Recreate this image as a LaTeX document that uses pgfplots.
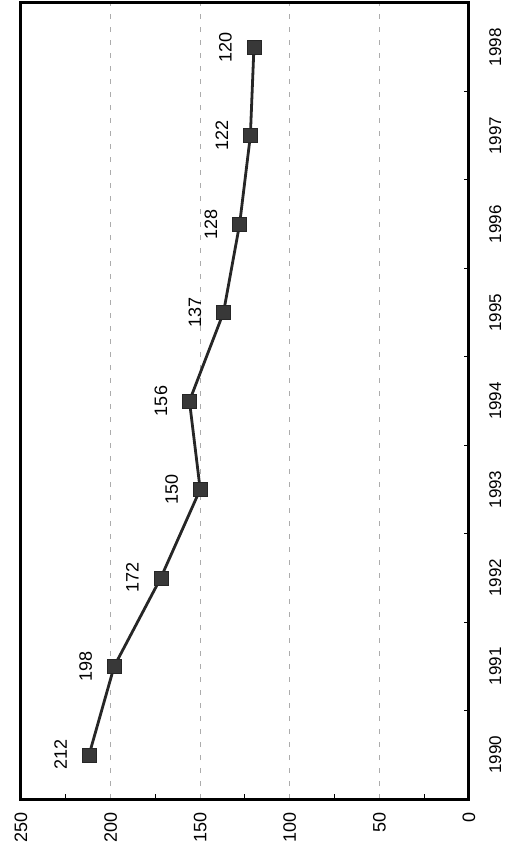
\documentclass[border=0pt]{standalone}
\usepackage{pgfplots}
\pgfplotsset{compat=1.18}
\usepackage{fontspec}
\setmainfont{Liberation Sans}
\begin{document}
\begin{tikzpicture}
\begin{axis}[
  scale only axis, width=448bp, height=796bp,
  xmin=0, xmax=250, x dir=reverse,
  ymin=1989.5, ymax=1998.5,
  xtick={0,50,...,250}, minor xtick={25,75,...,225},
  ytick={1990,1991,...,1998}, minor ytick={1990.5,1991.5,...,1997.5},
  yticklabels={1990,1991,1992,1993,1994,1995,1996,1997,1998},
  major tick length=0pt, minor tick length=5bp,
  minor tick style={line width=1bp, black},
  xtick pos=left, ytick pos=right, yticklabel pos=right,
  xmajorgrids, major grid style={dash pattern=on 5bp off 8bp, gray!65, line width=0.7bp},
  axis line style={line width=3bp, black},
  every outer x axis line/.append style={line width=3bp},
  every outer y axis line/.append style={line width=3bp},
  /pgf/number format/assume math mode=true,
  tick label style={inner sep=0pt},
  xticklabel style={rotate=90, anchor=east, font=\fontsize{18bp}{22bp}\selectfont},
  xticklabel shift=13bp,
  yticklabel style={rotate=90, anchor=north, font=\fontsize{17bp}{20bp}\selectfont},
  yticklabel shift=20bp,
  clip=false,
]
\addplot[line width=2.8bp, color=black!85, mark=square*, mark size=7bp,
  mark options={fill=black!78, draw=black!85, line width=0.5bp},
  point meta=x, nodes near coords,
  nodes near coords style={rotate=90, anchor=south, inner xsep=0pt, inner ysep=22bp,
    font=\fontsize{18bp}{22bp}\selectfont, black}]
coordinates {(212,1990) (198,1991) (172,1992) (150,1993) (156,1994) (137,1995) (128,1996) (122,1997) (120,1998)};
\draw[line width=3bp, black] (rel axis cs:0,0) rectangle (rel axis cs:1,1);
\end{axis}
\path[use as bounding box] ([shift={(-21bp,-48bp)}]current axis.south west) rectangle ([shift={(51bp,3bp)}]current axis.north east);
\end{tikzpicture}
\end{document}
